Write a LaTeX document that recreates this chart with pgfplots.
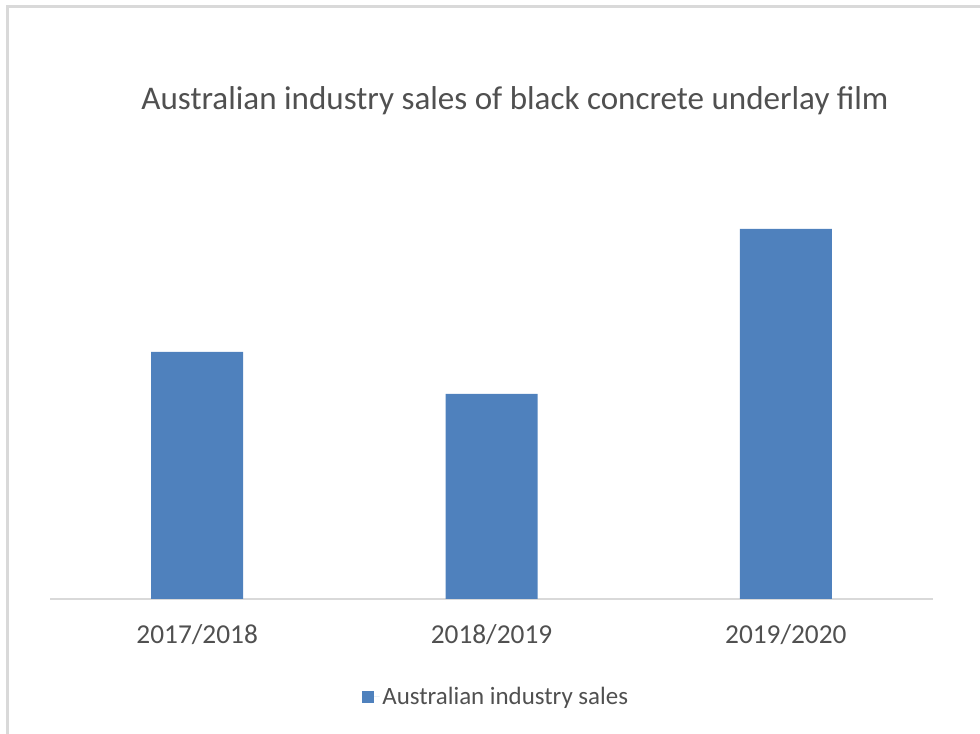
\documentclass[border=0pt]{standalone}
\usepackage{pgfplots}
\pgfplotsset{compat=1.18}
\usepackage{fontspec}
\setmainfont{Carlito}
\definecolor{barblue}{RGB}{79,129,189}
\definecolor{txtgray}{RGB}{80,80,80}
\definecolor{linegray}{RGB}{217,217,217}
\begin{document}
\begin{tikzpicture}
\path[use as bounding box] (0pt,0pt) rectangle (735pt,550.5pt);
\draw[linegray, line width=2.25pt] (5.25pt,0pt) -- (5.25pt,545.25pt) -- (735pt,545.25pt);
\node[anchor=base, text=txtgray, font=\fontsize{24.8}{29}\selectfont] at (386.25pt,468.5pt) {Australian industry sales of black concrete underlay film};
\begin{axis}[
  at={(37.5pt,101.25pt)}, anchor=south west,
  width=662.25pt, height=321.75pt, scale only axis,
  xmin=-0.5, xmax=2.5, ymin=0, ymax=429,
  axis x line=bottom, axis y line=none,
  x axis line style={-, linegray, line width=1.5pt},
  ytick=\empty,
  xtick=data,
  xticklabels={2017/2018,2018/2019,2019/2020},
  major tick length=0pt,
  /pgf/number format/assume math mode=true,
  xticklabel style={anchor=base, yshift=-33.5pt, text=txtgray, font=\fontsize{20.5}{24}\selectfont},
  ybar, bar width=69pt,
  legend style={at={(0.5057,-0.228)}, anchor=center, draw=none, font=\fontsize{18.7}{22}\selectfont, text=txtgray, legend cell align=left},
  legend image code/.code={\fill[barblue] (0pt,-4.5pt) rectangle (9pt,4.5pt); \path (0pt,0pt) -- (13pt,0pt);},
]
\addplot[fill=barblue, draw=none] coordinates {(0,247) (1,205) (2,370)};
\addlegendentry{Australian industry sales}
\end{axis}
\end{tikzpicture}
\end{document}
